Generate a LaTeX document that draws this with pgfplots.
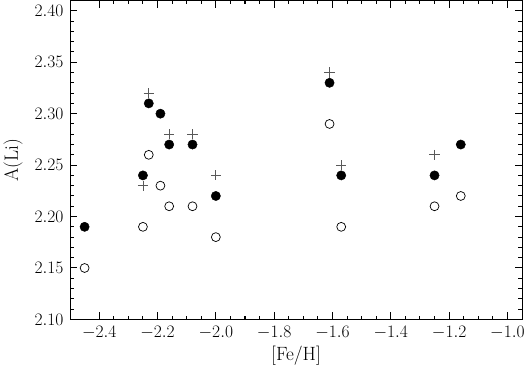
\documentclass[border=0pt]{standalone}
\usepackage{pgfplots}
\pgfplotsset{compat=1.18}
\begin{document}
\begin{tikzpicture}
\begin{axis}[
  scale only axis,
  width=445bp, height=314bp,
  xmin=-2.5, xmax=-0.95,
  ymin=2.10, ymax=2.41,
  xtick={-2.4,-2.2,-2.0,-1.8,-1.6,-1.4,-1.2,-1.0},
  ytick={2.10,2.15,2.20,2.25,2.30,2.35,2.40},
  minor x tick num=3,
  minor y tick num=4,
  tick align=inside,
  major tick length=7bp,
  minor tick length=3.5bp,
  tick style={black, line width=1pt},
  axis line style={line width=1pt},
  xticklabel style={/pgf/number format/fixed, /pgf/number format/fixed zerofill, /pgf/number format/precision=1, yshift=-3bp},
  yticklabel style={/pgf/number format/fixed, /pgf/number format/fixed zerofill, /pgf/number format/precision=2, xshift=-3bp},
  ticklabel style={font=\fontsize{19}{21}\selectfont},
  label style={font=\fontsize{19}{21}\selectfont},
  xlabel={[Fe/H]},
  ylabel={A(Li)},
  xlabel style={yshift=0bp},
  ylabel style={yshift=5bp},
]
\addplot[only marks, mark=*, mark size=4.6pt, black] coordinates {
(-2.45,2.19) (-2.25,2.24) (-2.23,2.31) (-2.19,2.30) (-2.16,2.27) (-2.08,2.27)
(-2.00,2.22) (-1.61,2.33) (-1.57,2.24) (-1.25,2.24) (-1.16,2.27)
};
\addplot[only marks, mark=o, mark size=4.4pt, black, mark options={line width=0.7pt}] coordinates {
(-2.45,2.15) (-2.25,2.19) (-2.23,2.26) (-2.19,2.23) (-2.16,2.21) (-2.08,2.21)
(-2.00,2.18) (-1.61,2.29) (-1.57,2.19) (-1.25,2.21) (-1.16,2.22)
};
\addplot[only marks, mark=+, mark size=5pt, black!65, mark options={line width=0.7pt}] coordinates {
(-2.23,2.32) (-2.25,2.23) (-2.16,2.28) (-2.08,2.28) (-2.00,2.24)
(-1.61,2.34) (-1.57,2.25) (-1.25,2.26)
};
\end{axis}
\end{tikzpicture}
\end{document}
